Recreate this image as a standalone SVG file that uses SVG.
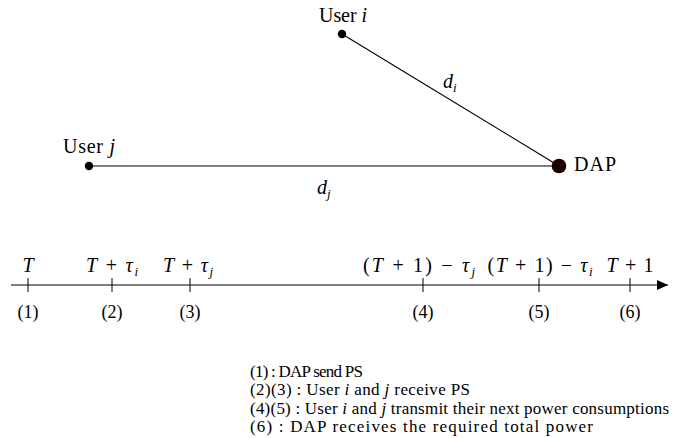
<svg xmlns="http://www.w3.org/2000/svg" width="678" height="438" viewBox="0 0 678 438">
<style>
text { font-family: "Liberation Serif", "Times New Roman", "DejaVu Serif", serif; fill: #000; }
.lbl { font-size: 20px; }
.tl { font-size: 20px; text-anchor: middle; }
.num { font-size: 18px; text-anchor: middle; }
.leg { font-size: 17px; }
.it { font-style: italic; }
.sub { font-size: 13px; font-style: italic; }
.edge { stroke: #000; stroke-width: 1.1; fill: none; }
.tick { stroke: #000; stroke-width: 1; }
</style>
<defs>
<marker id="arr" markerWidth="12" markerHeight="10" refX="11" refY="5" orient="auto" markerUnits="userSpaceOnUse">
<path d="M0,0 L11,5 L0,10 Z" fill="#000"/>
</marker>
</defs>
<rect width="678" height="438" fill="#fff"/>
<g id="connectors">
<line class="edge" x1="342" y1="34" x2="559" y2="166"/>
<line class="edge" x1="89" y1="166" x2="559" y2="166"/>
<text class="lbl" x="443" y="88"><tspan class="it">d</tspan><tspan class="sub" dy="4">i</tspan></text>
<text class="lbl" x="317" y="194"><tspan class="it">d</tspan><tspan class="sub" dy="4">j</tspan></text>
</g>
<g id="user-i">
<circle cx="342" cy="34" r="4.2" fill="#000"/>
<text class="lbl" x="319" y="22" textLength="48" lengthAdjust="spacing">User <tspan class="it">i</tspan></text>
</g>
<g id="user-j">
<circle cx="89" cy="166" r="4.2" fill="#000"/>
<text class="lbl" x="63" y="153" textLength="52" lengthAdjust="spacing">User <tspan class="it">j</tspan></text>
</g>
<g id="dap">
<circle cx="559" cy="166" r="7.3" fill="#1a0000"/>
<text class="lbl" x="574" y="171" textLength="42" lengthAdjust="spacing">DAP</text>
</g>
<g id="timeline">
<line class="edge" x1="11" y1="285" x2="668" y2="285" marker-end="url(#arr)"/>
<line class="tick" x1="28" y1="278" x2="28" y2="292"/>
<line class="tick" x1="112" y1="278" x2="112" y2="292"/>
<line class="tick" x1="190" y1="278" x2="190" y2="292"/>
<line class="tick" x1="423" y1="278" x2="423" y2="292"/>
<line class="tick" x1="539" y1="278" x2="539" y2="292"/>
<line class="tick" x1="630" y1="278" x2="630" y2="292"/>
<text class="tl" x="28" y="272"><tspan class="it">T</tspan></text>
<text class="tl" x="112" y="272" textLength="52" lengthAdjust="spacing"><tspan class="it">T</tspan> + <tspan class="it">τ</tspan><tspan class="sub" dy="4">i</tspan></text>
<text class="tl" x="188" y="272" textLength="50" lengthAdjust="spacing"><tspan class="it">T</tspan> + <tspan class="it">τ</tspan><tspan class="sub" dy="4">j</tspan></text>
<text class="tl" x="419" y="272" textLength="112" lengthAdjust="spacing">(<tspan class="it">T</tspan> + 1) − <tspan class="it">τ</tspan><tspan class="sub" dy="4">j</tspan></text>
<text class="tl" x="540" y="272" textLength="105" lengthAdjust="spacing">(<tspan class="it">T</tspan> + 1) − <tspan class="it">τ</tspan><tspan class="sub" dy="4">i</tspan></text>
<text class="tl" x="630" y="272" textLength="47" lengthAdjust="spacing"><tspan class="it">T</tspan> + 1</text>
<text class="num" x="28" y="318">(1)</text>
<text class="num" x="112" y="318">(2)</text>
<text class="num" x="190" y="318">(3)</text>
<text class="num" x="423" y="318">(4)</text>
<text class="num" x="539" y="318">(5)</text>
<text class="num" x="630" y="318">(6)</text>
</g>
<g id="legend">
<text class="leg" x="250" y="377" textLength="113" lengthAdjust="spacing">(1) : DAP send PS</text>
<text class="leg" x="250" y="395" textLength="220" lengthAdjust="spacing">(2)(3) : User <tspan class="it">i</tspan> and <tspan class="it">j</tspan> receive PS</text>
<text class="leg" x="250" y="414" textLength="419" lengthAdjust="spacing">(4)(5) : User <tspan class="it">i</tspan> and <tspan class="it">j</tspan> transmit their next power consumptions</text>
<text class="leg" x="250" y="432" textLength="343" lengthAdjust="spacing">(6) : DAP receives the required total power</text>
</g>
</svg>
